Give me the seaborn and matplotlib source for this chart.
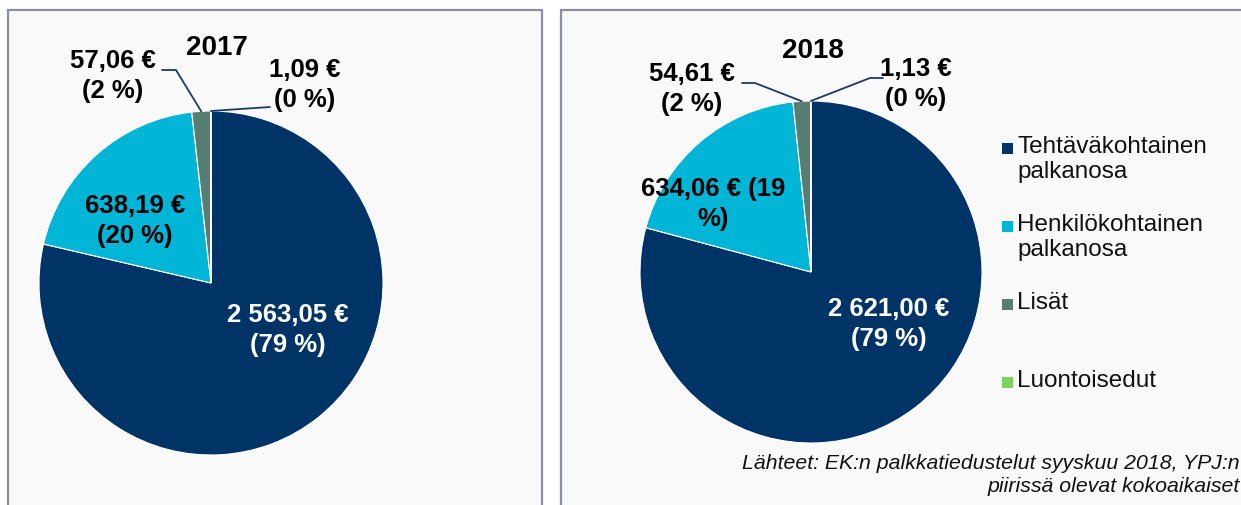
import numpy as np
import matplotlib
matplotlib.use("Agg")
import matplotlib.pyplot as plt
from matplotlib.patches import Rectangle
import seaborn as sns

# data
categories = ["Tehtäväkohtainen\npalkanosa", "Henkilökohtainen\npalkanosa", "Lisät", "Luontoisedut"]
years = ["2017", "2018"]
values_2017 = [2563.05, 638.19, 57.06, 1.09]
values_2018 = [2621.00, 634.06, 54.61, 1.13]
labels_2017 = ["2 563,05 €\n(79 %)", "638,19 €\n(20 %)", "57,06 €\n(2 %)", "1,09 €\n(0 %)"]
labels_2018 = ["2 621,00 €\n(79 %)", "634,06 € (19\n%)", "54,61 €\n(2 %)", "1,13 €\n(0 %)"]
source = "Lähteet: EK:n palkkatiedustelut syyskuu 2018, YPJ:n\npiirissä olevat kokoaikaiset"

colors = sns.color_palette(["#003366", "#00b5d6", "#587e74", "#7dd35e"])

sns.set_theme(style="white")
plt.rcParams["font.family"] = ["Liberation Sans", "DejaVu Sans"]

W, H = 1241, 505
fig = plt.figure(figsize=(W / 100, H / 100), dpi=100)
fig.patch.set_facecolor("white")
ax = fig.add_axes([0, 0, 1, 1])


def Y(y):
    # pixel row from top -> data y
    return H - y


# panels
for x0, x1 in [(8, 542), (561, 1300)]:
    ax.add_patch(Rectangle((x0, -20), x1 - x0, Y(10) + 20, facecolor="#f9f9f9",
                           edgecolor="#8a8fa3", linewidth=1.6, zorder=0))

# layout per pie: center, radius, title pos, label positions, leader knees
layouts = [
    dict(vals=values_2017, labs=labels_2017, year=years[0], c=(211, 283), r=172,
         title=(217, 48),
         pos=[(288, 330), (135, 221), (113, 76), (305, 85)],
         lead2=[(162, 70), (176, 70)], lead3=[(270, 107), (270, 107)]),
    dict(vals=values_2018, labs=labels_2018, year=years[1], c=(811, 272), r=171,
         title=(813, 51),
         pos=[(889, 324), (713, 204), (692, 89), (916, 84)],
         lead2=[(742, 83), (755, 83)], lead3=[(883, 78), (870, 78)]),
]

for L in layouts:
    cx, cy = L["c"]
    wedges, _ = ax.pie(L["vals"], colors=colors, startangle=90, counterclock=False,
                       center=(cx, Y(cy)), radius=L["r"],
                       wedgeprops=dict(edgecolor="white", linewidth=0.8), frame=True)
    ax.text(L["title"][0], Y(L["title"][1]), L["year"], ha="center", va="center",
            fontsize=20, fontweight="bold", color="black")
    for i, (lab, (px, py)) in enumerate(zip(L["labs"], L["pos"])):
        ax.text(px, Y(py), lab, ha="center", va="center", fontsize=18.5,
                fontweight="bold", color="white" if i == 0 else "black",
                linespacing=1.3)
    # leader lines to the two small wedges
    for i, pts in [(2, L["lead2"]), (3, L["lead3"])]:
        w = wedges[i]
        ang = np.deg2rad((w.theta1 + w.theta2) / 2)
        ex = cx + L["r"] * np.cos(ang)
        ey = Y(cy) + L["r"] * np.sin(ang)
        xs = [p[0] for p in pts] + [ex]
        ys = [Y(p[1]) for p in pts] + [ey]
        ax.plot(xs, ys, color="#1f3864", linewidth=1.3, zorder=5)

# legend (manual, entries on fixed rows)
for i, (cat, col) in enumerate(zip(categories, colors)):
    yc = 148 + 78 * i
    ax.add_patch(Rectangle((1002, Y(yc) - 5.5), 11, 11, facecolor=col, edgecolor="none", zorder=3))
    ax.text(1017, Y(yc - 12), cat, ha="left", va="top", fontsize=17.5, color="#111111",
            linespacing=1.2)

ax.text(1240, Y(475), source, ha="right", va="center", fontsize=15.3, style="italic",
        color="#111111", linespacing=1.25)

ax.set_xlim(0, W)
ax.set_ylim(0, H)
ax.set_aspect("auto")
ax.axis("off")

fig.savefig("out.png", dpi=100, facecolor="white")
